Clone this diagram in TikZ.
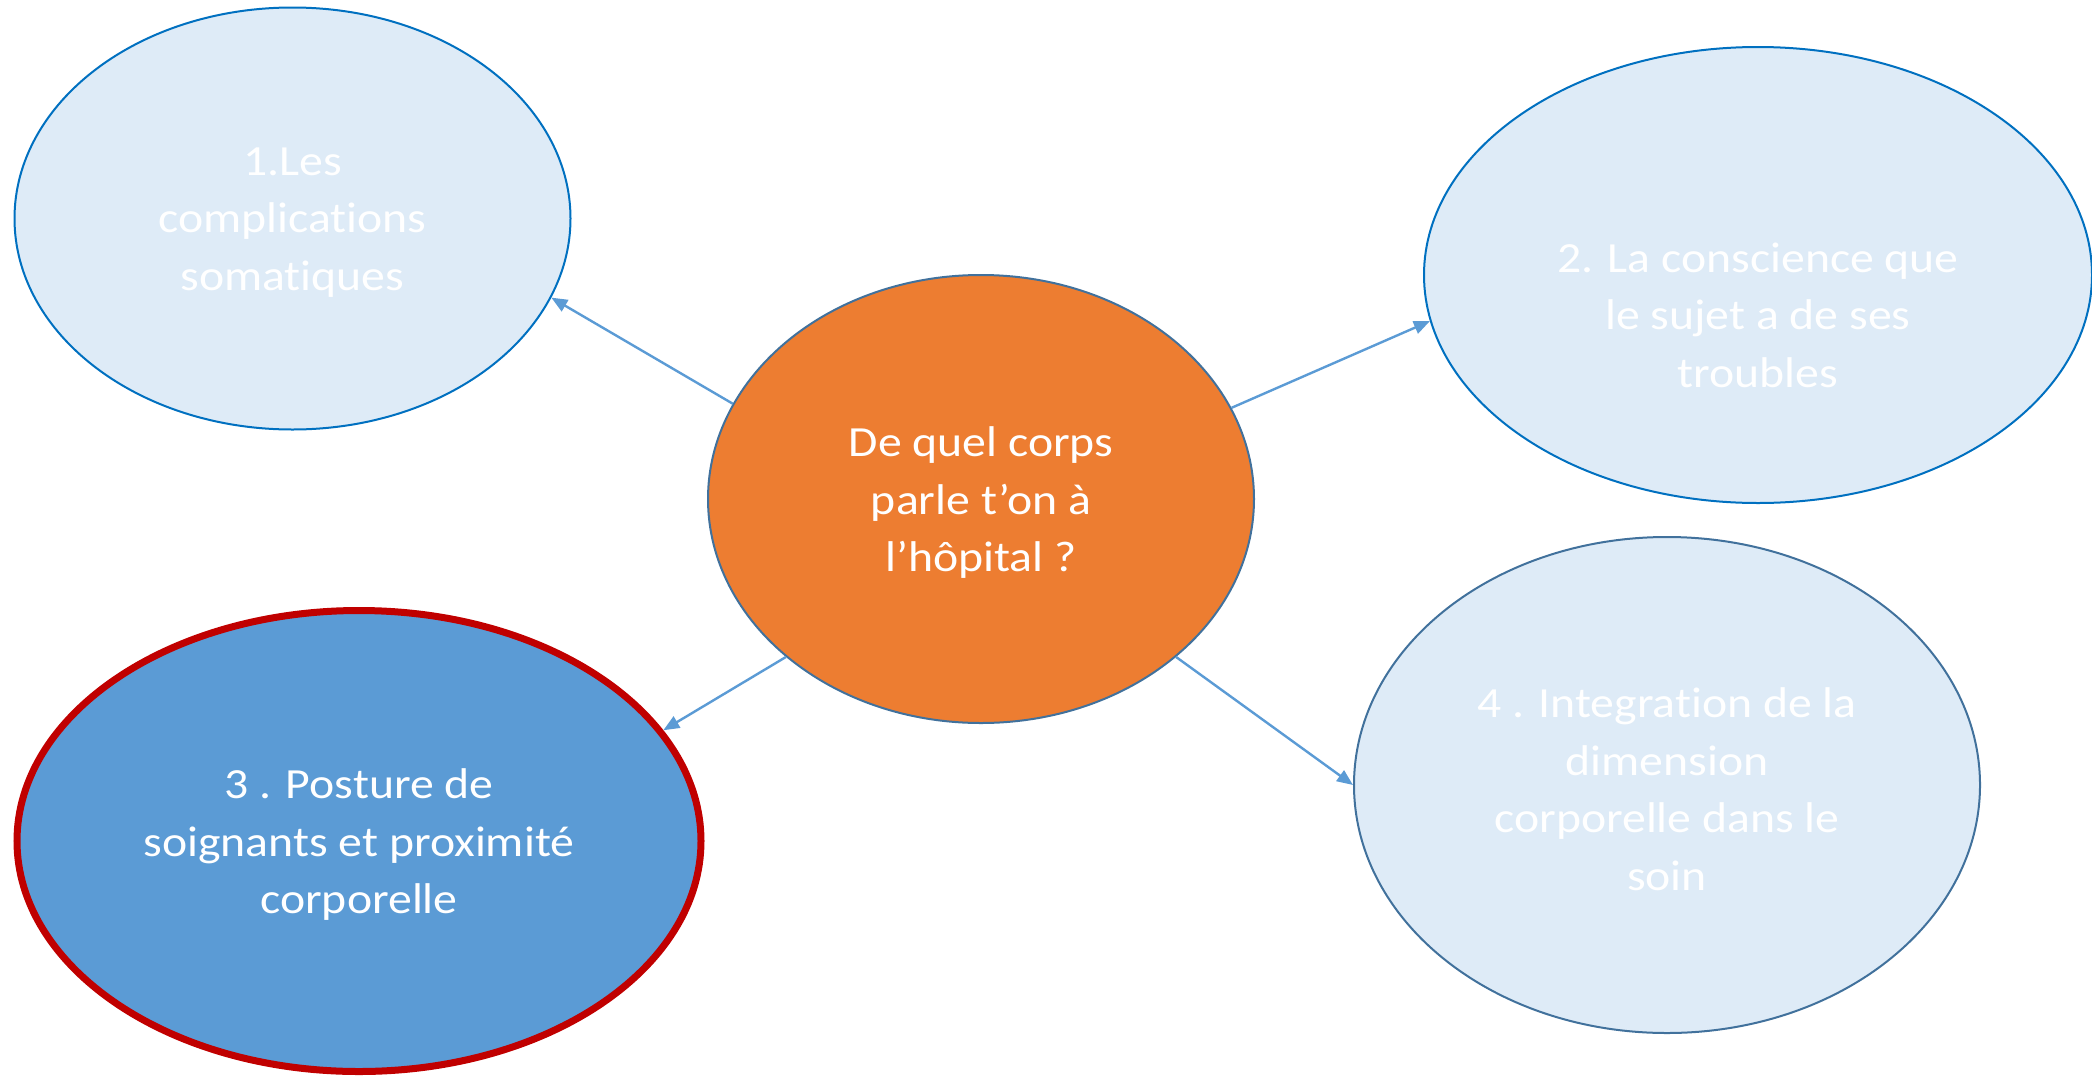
\documentclass[tikz,border=0pt]{standalone}
\usepackage{fontspec}
\setmainfont{Carlito}[FakeStretch=1.11, Ligatures=NoCommon]
\usetikzlibrary{shapes.geometric,arrows.meta}
\definecolor{paleblue}{HTML}{DEEBF7}
\definecolor{rimblue}{HTML}{0070C0}
\definecolor{rimgrey}{HTML}{41719C}
\definecolor{midblue}{HTML}{5B9BD5}
\definecolor{hotorange}{HTML}{ED7D31}
\definecolor{darkred}{HTML}{C00000}
\begin{document}
\begin{tikzpicture}[x=0.5pt,y=-0.5pt]
\tikzstyle{every node}+=[inner sep=0pt]
\tikzstyle{blob}=[ellipse, draw, line width=1pt]
\tikzstyle{txt}=[align=center, text=white, yshift=-2pt, font=\fontsize{21.5pt}{28.75pt}\selectfont]
\tikzstyle{link}=[draw=midblue, line width=1.2pt, -{Triangle[length=8pt,width=6.5pt]}]
\useasboundingbox (0,0) rectangle (2092,1076);

% centre
\node [blob, fill=hotorange, draw=rimgrey, minimum width=273pt, minimum height=224pt] (corps) at (981,499) {};
\node [txt] (corpstxt) at (corps.center) {De quel corps\\parle t’on à\\l’hôpital ?};

% 1
\node [blob, fill=paleblue, draw=rimblue, minimum width=278pt, minimum height=211pt] (soma) at (292.5,218.5) {};
\node [txt] (somatxt) at (soma.center) {1.Les\\complications\\somatiques};

% 2
\node [blob, fill=paleblue, draw=rimblue, minimum width=334pt, minimum height=228pt] (conscience) at (1758,275) {};
\node [txt, yshift=-18pt] (consciencetxt) at (conscience.center) {2. La conscience que\\le sujet a de ses\\troubles};

% 3
\node [blob, fill=midblue, draw=darkred, line width=3.5pt, minimum width=342pt, minimum height=230.5pt] (posture) at (359,841) {};
\node [txt] (posturetxt) at (posture.center) {3 . Posture de\\soignants et proximité\\corporelle};

% 4
\node [blob, fill=paleblue, draw=rimgrey, minimum width=313pt, minimum height=248pt] (soin) at (1667,785) {};
\node [txt] (sointxt) at (soin.center) {4 . Integration de la\\dimension\\corporelle dans le\\soin};

\draw [link] (corps.159.2) -- (soma.-17.5);
\draw [link] (corps.20.6) -- (conscience.-172.8);
\draw [link] (corps.219.3) -- (posture.20.5);
\draw [link] (corps.-39.4) -- (soin.180);
\end{tikzpicture}
\end{document}
